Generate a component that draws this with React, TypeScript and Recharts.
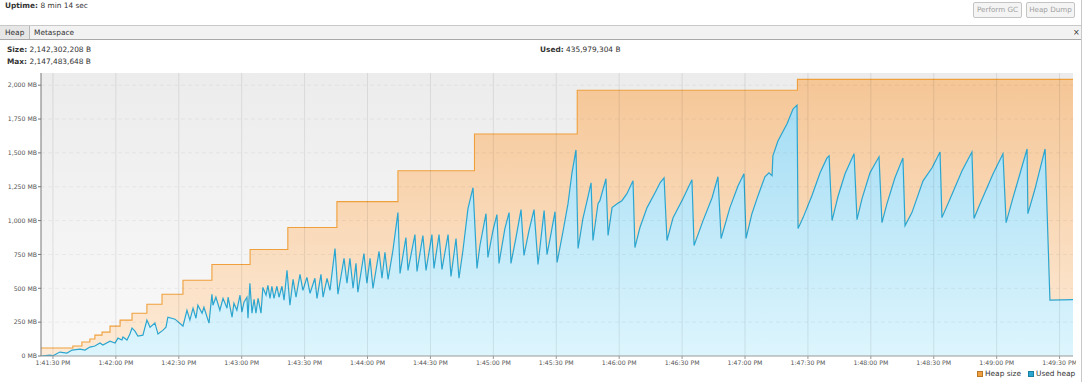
import { ComposedChart, Area, XAxis, YAxis, ReferenceLine } from 'recharts'

const FONT = '"DejaVu Sans", Verdana, sans-serif'

// seconds after 1:41:30 PM
const heapSec = [-5.7, 9.5, 13.8, 17.6, 20, 23.4, 27.2, 32, 37.7, 44.8, 52, 62, 75.8, 94, 112, 135.4, 164.5, 201, 250, 355, 486.4]
const heapMb = [59, 74, 103, 125, 154, 176, 221, 265, 316, 382, 456, 559, 676, 787, 949, 1140, 1368, 1640, 1963, 2043, 2043]

const usedSec = [
  -5.7, -1.4, 0, 3.3, 6.7, 9.1, 12.9, 15.3, 17.6, 20, 22.4, 23.8, 27.2, 29.6, 31, 32.9, 33.4, 35.3, 36.7, 37.7,
  39.1, 40.5, 42.9, 44.8, 46.3, 48.6, 50.1, 52.5, 53.9, 54.8, 58.2, 62, 63.9, 65.3, 66.8, 68.2, 69.1, 71.1, 72, 74.4,
  75.8, 76.3, 77.7, 79.6, 81.1, 83, 83.5, 85.4, 86.3, 87.7, 89.2, 90.1, 91.1, 92.5, 93, 93.9, 94.9, 95.9, 96.8, 97.8,
  99.2, 100.1, 101.6, 102.5, 103.5, 104.4, 105.4, 106.8, 107.8, 109.2, 110.2, 111.6, 113, 114.5, 115.9, 117.8, 119.2, 121.1, 122.6, 124.9,
  125.9, 127.8, 128.8, 130.7, 132.1, 134.5, 135.9, 138.8, 140.2, 141.6, 143.1, 144.5, 145.4, 148.3, 149.7, 151.2, 152.6, 155.5, 156.9, 158.3,
  159.8, 162.1, 164.5, 165.5, 168.3, 169.3, 172.6, 173.6, 176.4, 177.9, 180.7, 181.7, 184.1, 185.5, 188.4, 189.8, 192.2, 193.6, 195.5, 197.9,
  200.3, 202.2, 203.6, 206.5, 207.4, 209.8, 211.7, 212.7, 215.5, 217.5, 218.4, 220.8, 223.2, 224.6, 227, 229.4, 231.3, 234.2, 235.6, 237.5,
  239.4, 240.4, 243.2, 245.6, 247.5, 249.4, 250.4, 252.7, 254.7, 256.6, 257.5, 259.9, 260.8, 263.7, 264.7, 266.6, 269, 271.3, 273.7, 276.6,
  277.5, 279.9, 283.3, 287.1, 289.5, 291.4, 292.8, 295.7, 300.4, 304.7, 305.7, 310, 314.3, 317.1, 318.6, 322.8, 326.7, 329.5, 330.5, 333.3,
  336.2, 339.5, 341.4, 342.9, 343.3, 345.7, 350, 352.9, 354.8, 355.3, 357.7, 361.9, 365.8, 369.1, 370.1, 371.5, 374.3, 377.7, 382, 383.4,
  385.8, 389.6, 393.9, 395.3, 397.7, 401.5, 405.3, 406.3, 409.6, 414.9, 419.2, 423, 423.9, 427.8, 433.5, 438.2, 439.2, 442.1, 448.3, 453,
  454.5, 457.8, 461.1, 464.5, 464.9, 468.3, 473.1, 475.4, 486.4,
]
const usedMb = [
  0, 7, 2, 29, 22, 44, 51, 44, 66, 74, 96, 81, 110, 96, 132, 118, 140, 118, 162, 206,
  184, 147, 154, 265, 213, 243, 162, 191, 213, 287, 272, 221, 338, 265, 353, 279, 375, 316, 360, 243,
  456, 375, 434, 338, 426, 353, 434, 287, 390, 338, 449, 324, 397, 434, 279, 537, 316, 419, 316, 426,
  316, 507, 449, 522, 426, 515, 426, 515, 434, 515, 412, 632, 375, 566, 434, 603, 485, 581, 463, 574,
  426, 603, 434, 574, 485, 794, 456, 721, 537, 721, 500, 684, 471, 757, 537, 721, 500, 772, 574, 765,
  566, 779, 1059, 610, 875, 632, 897, 625, 890, 632, 897, 647, 897, 640, 897, 588, 868, 574, 779, 1088,
  1243, 647, 816, 1051, 728, 926, 1044, 684, 941, 1059, 684, 875, 1081, 743, 926, 1081, 676, 1074, 750, 904,
  1066, 691, 919, 1125, 1353, 1522, 794, 1015, 1147, 1279, 853, 1125, 1147, 1309, 890, 1096, 1125, 1147, 1199, 1294,
  801, 949, 1096, 1206, 1279, 1316, 853, 1022, 1162, 1301, 816, 1000, 1169, 1324, 868, 1096, 1257, 1346, 868, 1051,
  1184, 1324, 1353, 1331, 1478, 1588, 1713, 1824, 1853, 941, 1022, 1184, 1353, 1463, 1478, 1000, 1176, 1346, 1493, 1007,
  1162, 1353, 1471, 985, 1125, 1316, 1463, 963, 1059, 1294, 1390, 1507, 1022, 1162, 1368, 1507, 1015, 1125, 1346, 1493,
  985, 1169, 1346, 1529, 1051, 1235, 1529, 412, 416,
]

const timeTicks = [0, 30, 60, 90, 120, 150, 180, 210, 240, 270, 300, 330, 360, 390, 420, 450, 480]
const mbTicks = [0, 250, 500, 750, 1000, 1250, 1500, 1750, 2000]

const heapData = heapSec.map((t, i) => ({ t, heap: heapMb[i] }))
const usedData = usedSec.map((t, i) => ({ t, used: usedMb[i] }))

const fmtTime = (s: number) => {
  const total = 13 * 3600 + 41 * 60 + 30 + s
  const h = Math.floor(total / 3600) % 12 || 12
  const m = Math.floor((total % 3600) / 60)
  const sec = Math.round(total % 60)
  return `${h}:${String(m).padStart(2, '0')}:${String(sec).padStart(2, '0')} PM`
}
const fmtMb = (v: number) => `${v.toLocaleString('en-US')} MB`

const tickStyle = { fill: '#555', fontSize: 6.2, fontFamily: FONT }
const txt = { position: 'absolute' as const, fontSize: 7.4, color: '#333', whiteSpace: 'nowrap' as const, lineHeight: '9px' }

const MbTick = (props: any) => {
  const { x, y, payload } = props
  return (
    <text x={x} y={y} dy="0.36em" textAnchor="end" {...tickStyle}>
      {fmtMb(payload.value)}
    </text>
  )
}

export default function App() {
  return (
    <div style={{ position: 'absolute', left: 0, top: 0, width: 1085, height: 382, background: '#fff', fontFamily: FONT, overflow: 'hidden' }}>
      <div style={{ ...txt, left: 5, top: 1 }}><b>Uptime:</b> 8 min 14 sec</div>
      {['Perform GC', 'Heap Dump'].map((label, i) => (
        <div key={label} style={{ position: 'absolute', left: 973 + i * 53, top: 2, width: 47, height: 14, border: '1px solid #c4c4c4', borderRadius: 2, background: '#f4f4f4', color: '#a0a0a0', fontSize: 7.2, lineHeight: '14px', textAlign: 'center' }}>{label}</div>
      ))}
      <div style={{ position: 'absolute', left: 0, top: 25, width: 1082, height: 13, background: '#f2f2f2', borderTop: '1px solid #c8c8c8', borderBottom: '1px solid #a8a8a8' }} />
      <div style={{ position: 'absolute', left: 0, top: 26, width: 29, height: 13, background: '#e6e6e6', borderRight: '1px solid #b8b8b8' }} />
      <div style={{ ...txt, left: 5, top: 28 }}>Heap</div>
      <div style={{ ...txt, left: 34, top: 28 }}>Metaspace</div>
      <div style={{ ...txt, left: 1073, top: 28, fontSize: 8 }}>×</div>
      <div style={{ ...txt, left: 7, top: 45 }}><b>Size:</b> 2,142,302,208 B</div>
      <div style={{ ...txt, left: 7, top: 57 }}><b>Max:</b> 2,147,483,648 B</div>
      <div style={{ ...txt, left: 540, top: 45 }}><b>Used:</b> 435,979,304 B</div>
      <div style={{ position: 'absolute', left: 1081, top: 0, width: 1, height: 382, background: '#c8c8c8' }} />

      <div style={{ position: 'absolute', left: 0, top: 0, width: 1076, height: 382, overflow: 'hidden' }}>
        <ComposedChart width={1085} height={382} margin={{ top: 73, right: 12, bottom: 0, left: 0 }}>
          <defs>
            <linearGradient id="heapFill" x1="0" y1="0" x2="0" y2="1">
              <stop offset="0%" stopColor="#f5c696" />
              <stop offset="100%" stopColor="#fdebd8" />
            </linearGradient>
            <linearGradient id="usedFill" x1="0" y1="0" x2="0" y2="1">
              <stop offset="0%" stopColor="#a5ddf4" />
              <stop offset="100%" stopColor="#ddf5fd" />
            </linearGradient>
            <linearGradient id="bgFill" x1="0" y1="0" x2="0" y2="1">
              <stop offset="0%" stopColor="#ececec" />
              <stop offset="100%" stopColor="#f9f9f9" />
            </linearGradient>
          </defs>
          <XAxis
            dataKey="t"
            type="number"
            domain={[-5.7, 486.4]}
            allowDataOverflow
            ticks={timeTicks}
            tickFormatter={fmtTime}
            tick={tickStyle}
            tickSize={3}
            tickMargin={2}
            height={26}
            stroke="#999"
            interval={0}
          />
          <YAxis
            type="number"
            domain={[0, 2090]}
            allowDataOverflow
            ticks={mbTicks}
            tick={<MbTick />}
            tickSize={3}
            tickMargin={1}
            width={41}
            stroke="#777"
            interval={0}
          />
          <Area data={[{ t: -5.7, bg: 2090 }, { t: 486.4, bg: 2090 }]} dataKey="bg" type="linear" stroke="none" fill="url(#bgFill)" fillOpacity={1} isAnimationActive={false} dot={false} activeDot={false} />
          <Area data={heapData} dataKey="heap" name="Heap size" type="stepAfter" stroke="#efa03c" strokeWidth={1.1} fill="url(#heapFill)" fillOpacity={1} isAnimationActive={false} dot={false} activeDot={false} />
          <Area data={usedData} dataKey="used" name="Used heap" type="linear" stroke="#2ba6d0" strokeWidth={1.2} fill="url(#usedFill)" fillOpacity={1} isAnimationActive={false} dot={false} activeDot={false} />
          {timeTicks.map((t) => (
            <ReferenceLine key={'v' + t} x={t} stroke="#000" strokeOpacity={0.085} strokeWidth={1} />
          ))}
          {mbTicks.slice(1).map((v) => (
            <ReferenceLine key={'h' + v} y={v} stroke="#000" strokeOpacity={0.05} strokeDasharray="4 3" />
          ))}
        </ComposedChart>
        <div style={{ position: 'absolute', left: 977, top: 371, width: 4, height: 4, background: '#f0a040', border: '1px solid #b8782a' }} />
        <div style={{ ...txt, left: 985, top: 369 }}>Heap size</div>
        <div style={{ position: 'absolute', left: 1028, top: 371, width: 4, height: 4, background: '#2ba6d0', border: '1px solid #1a7fa0' }} />
        <div style={{ ...txt, left: 1036, top: 369 }}>Used heap</div>
      </div>
    </div>
  )
}
